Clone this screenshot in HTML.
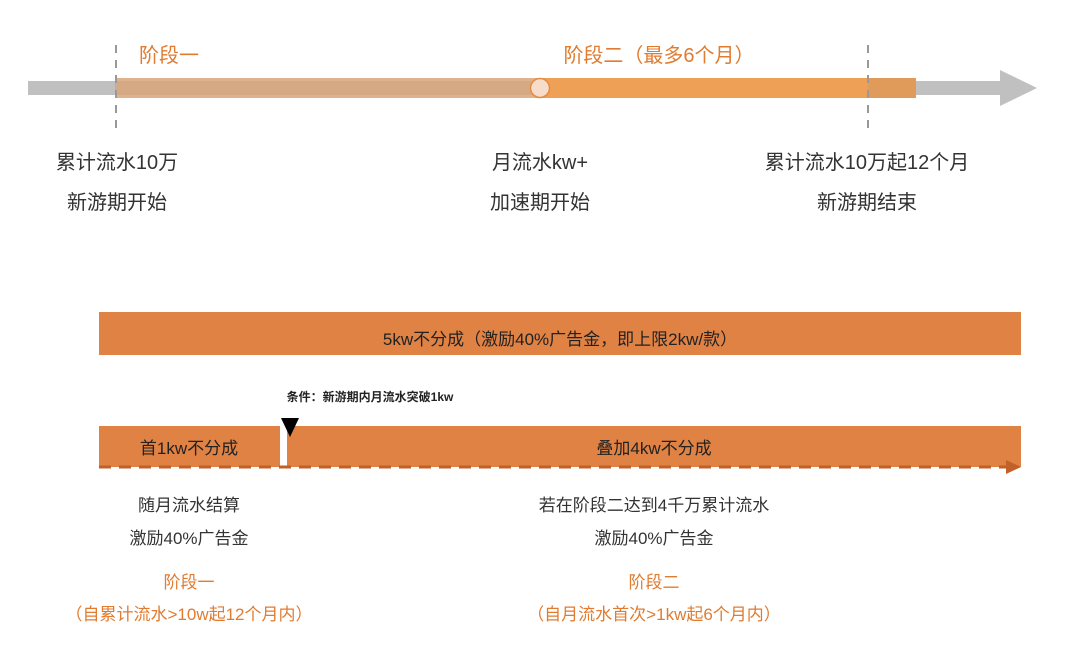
<!DOCTYPE html>
<html><head><meta charset="utf-8"><style>
body{margin:0;width:1080px;height:653px;background:#fff;position:relative;overflow:hidden;font-family:"Liberation Sans","Noto Sans CJK SC",sans-serif;}
div{position:absolute;}
.t{white-space:nowrap;text-align:center;transform:translateX(-50%);color:#333;}
.o{color:#e07b30;}
</style></head><body>
<svg width="1080" height="653" style="position:absolute;left:0;top:0">
<rect x="28" y="81" width="975" height="14" fill="#c0c0c0"/>
<polygon points="1000,70 1037,88 1000,106" fill="#c0c0c0"/>
<rect x="115" y="78" width="425" height="20" fill="#d9a47a" opacity="0.85"/>
<rect x="540" y="78" width="376" height="20" fill="#eda056"/>
<rect x="868" y="78" width="48" height="20" fill="#e09a5a"/>
<circle cx="540" cy="88" r="9.5" fill="#f6dccb" stroke="#e88a3d" stroke-width="1.5"/>
<line x1="116" y1="45" x2="116" y2="130" stroke="#999" stroke-width="2" stroke-dasharray="8,7"/>
<line x1="868" y1="45" x2="868" y2="130" stroke="#999" stroke-width="2" stroke-dasharray="8,7"/>
<rect x="99" y="312" width="922" height="43" fill="#df8244"/>
<rect x="99" y="426" width="922" height="41" fill="#df8244"/>
<rect x="280" y="426" width="7" height="42" fill="#fff"/>
<line x1="99" y1="467" x2="1010" y2="467" stroke="#c2602a" stroke-width="3" stroke-dasharray="12,8"/>
<polygon points="1006,460 1021,467 1006,474" fill="#c2602a"/>
<polygon points="281,418 299,418 290,437" fill="#000"/>
</svg>
<div class="t o" style="left:169px;top:39px;font-size:20px">阶段一</div>
<div class="t o" style="left:659px;top:39px;font-size:20px">阶段二（最多6个月）</div>
<div class="t" style="left:117px;top:146px;font-size:20px">累计流水10万</div>
<div class="t" style="left:117px;top:186px;font-size:20px">新游期开始</div>
<div class="t" style="left:540px;top:146px;font-size:20px">月流水kw+</div>
<div class="t" style="left:540px;top:186px;font-size:20px">加速期开始</div>
<div class="t" style="left:867px;top:146px;font-size:20px">累计流水10万起12个月</div>
<div class="t" style="left:867px;top:186px;font-size:20px">新游期结束</div>
<div class="t" style="left:560px;top:325px;font-size:17px;color:#222">5kw不分成（激励40%广告金，即上限2kw/款）</div>
<div class="t" style="left:370px;top:388px;font-size:12px;font-weight:bold;color:#222">条件：新游期内月流水突破1kw</div>
<div class="t" style="left:189px;top:434px;font-size:17px;color:#222">首1kw不分成</div>
<div class="t" style="left:654px;top:434px;font-size:17px;color:#222">叠加4kw不分成</div>
<div class="t" style="left:189px;top:491px;font-size:17px">随月流水结算</div>
<div class="t" style="left:189px;top:524px;font-size:17px">激励40%广告金</div>
<div class="t o" style="left:189px;top:568px;font-size:17px">阶段一</div>
<div class="t o" style="left:189px;top:600px;font-size:17px">（自累计流水&gt;10w起12个月内）</div>
<div class="t" style="left:654px;top:491px;font-size:17px">若在阶段二达到4千万累计流水</div>
<div class="t" style="left:654px;top:524px;font-size:17px">激励40%广告金</div>
<div class="t o" style="left:654px;top:568px;font-size:17px">阶段二</div>
<div class="t o" style="left:654px;top:600px;font-size:17px">（自月流水首次&gt;1kw起6个月内）</div>
</body></html>
